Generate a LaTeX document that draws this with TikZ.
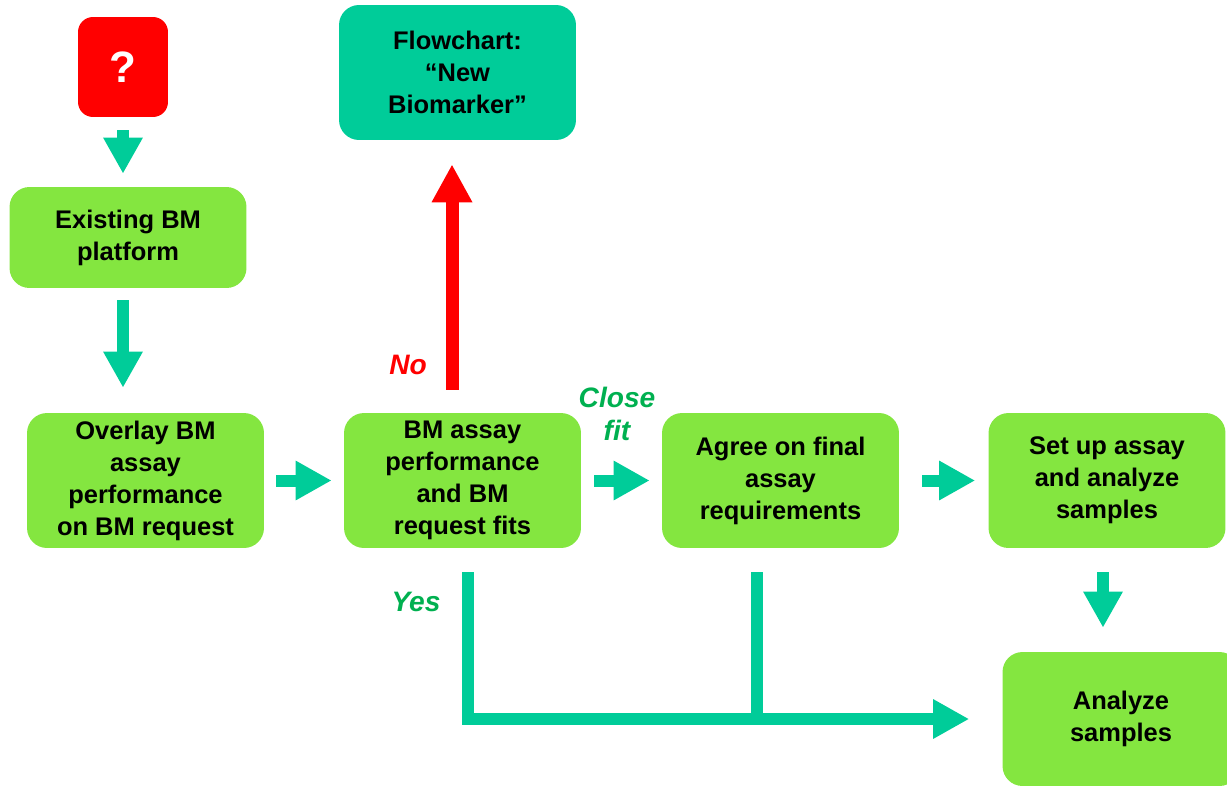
\documentclass[tikz,border=0pt]{standalone}
\usepackage{fontspec}
\setmainfont{Liberation Sans}
\usetikzlibrary{arrows.meta,positioning}
\definecolor{boxgreen}{HTML}{84E640}
\definecolor{flowteal}{HTML}{00CC99}
\definecolor{labelgreen}{HTML}{00B050}
\definecolor{alertred}{HTML}{FF0000}
\tikzset{
    stepbox/.style={rectangle, rounded corners=0.4cm, fill=boxgreen, align=center,
        font=\bfseries\fontsize{14.5}{18.2}\selectfont, inner sep=2pt,
        minimum width=4.74cm, minimum height=2.7cm},
    flowarrow/.style={draw=flowteal, line width=0.24cm, -{Triangle[width=0.74cm,length=0.72cm]}},
    flowline/.style={draw=flowteal, line width=0.24cm},
    noarrow/.style={draw=alertred, line width=0.26cm, -{Triangle[width=0.76cm,length=0.76cm]}},
    answer/.style={font=\bfseries\itshape\fontsize{16}{18.5}\selectfont, align=center}
}
\begin{document}
\begin{tikzpicture}[x=0.02cm,y=-0.02cm]
            \useasboundingbox (0,0) rectangle (1227,785);
            \node [rectangle, rounded corners=0.3cm, fill=alertred, text=white, minimum width=1.8cm, minimum height=2cm,
                   font=\bfseries\fontsize{25}{28}\selectfont] (q) at (123,67) {?};
            \node [stepbox, minimum height=2.02cm] (existing) at (128,237.5) {Existing BM\\platform};
            \node [stepbox] (overlay) at (145.5,480.5) {Overlay BM\\assay\\performance\\on BM request};
            \node [stepbox] (fits) at (462.5,480.5) {BM assay\\performance\\and BM\\request fits};
            \node [stepbox, fill=flowteal] (newbm) at (457.5,72.5) {Flowchart:\\“New\\Biomarker”};
            \node [stepbox] (agree) at (780.5,480.5) {Agree on final\\assay\\requirements};
            \node [stepbox] (setup) at (1107,480.5) {Set up assay\\and analyze\\samples};
            \node [stepbox, minimum height=2.68cm] (analyze) at (1121,719) {Analyze\\samples};
            \node [answer, text=alertred] (no) at (408,365) {No};
            \node [answer, text=labelgreen] (close) at (617,414) {Close\\fit};
            \node [answer, text=labelgreen] (yes) at (416,602) {Yes};
            \draw[flowarrow, shorten <=0.26cm, shorten >=0.26cm] (q) -- (q |- existing.north);
            \draw[flowarrow, shorten <=0.24cm, shorten >=0.5cm] (existing.south -| q) -- (overlay.north -| q);
            \draw[flowarrow, shorten <=0.24cm, shorten >=0.24cm] (overlay) -- (fits);
            \draw[flowarrow, shorten <=0.26cm, shorten >=0.24cm] (fits) -- (agree);
            \draw[flowarrow, shorten <=0.46cm, shorten >=0.26cm] (agree) -- (setup);
            \draw[flowarrow, shorten <=0.48cm, shorten >=0.48cm] ([xshift=-0.08cm]setup.south) -- ([xshift=-0.08cm]setup.south |- analyze.north);
            \draw[noarrow, shorten <=0.46cm, shorten >=0.48cm] ([xshift=-0.21cm]fits.north) -- ([xshift=-0.21cm]fits.north |- newbm.south);
            \draw[flowarrow, shorten <=0.48cm, shorten >=0.66cm] ([xshift=0.11cm]fits.south) |- (analyze.west);
            \draw[flowline, shorten <=0.48cm] ([xshift=-0.47cm]agree.south) -- ([xshift=-0.47cm]agree.south |- analyze.west);
        \end{tikzpicture}
\end{document}
